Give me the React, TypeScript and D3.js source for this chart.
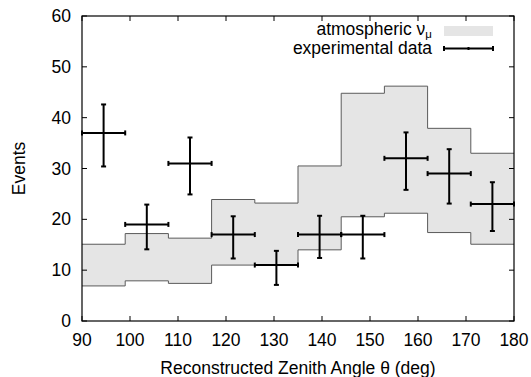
import { useEffect, useRef } from 'react';
import * as d3 from 'd3';

// histogram bins (deg), 9 deg wide
const binEdges = [90, 99, 108, 117, 126, 135, 144, 153, 162, 171, 180];
// atmospheric nu_mu expectation band
const bandUpper = [15.1, 17.2, 16.3, 23.9, 23.2, 30.5, 44.8, 46.2, 37.9, 33.0];
const bandLower = [6.9, 7.9, 7.4, 11.0, 11.0, 14.0, 20.5, 21.2, 17.4, 15.1];
// experimental data
const dataCounts = [37, 19, 31, 17, 11, 17, 17, 32, 29, 23];
const dataLow = [30.4, 14.1, 24.9, 12.3, 7.1, 12.4, 12.3, 25.8, 23.1, 17.7];
const dataHigh = [42.6, 22.9, 36.1, 20.6, 13.8, 20.7, 20.7, 37.1, 33.8, 27.3];

const xTicks = [90, 100, 110, 120, 130, 140, 150, 160, 170, 180];
const yTicks = [0, 10, 20, 30, 40, 50, 60];

export default function App() {
  const svgRef = useRef<SVGSVGElement>(null);

  useEffect(() => {
    if (!svgRef.current) return;
    const width = 531;
    const height = 377;
    const svg = d3.select(svgRef.current);
    svg.selectAll('*').remove();

    const margin = { top: 16, right: 17, bottom: 56, left: 82 };
    const innerW = width - margin.left - margin.right;
    const innerH = height - margin.top - margin.bottom;
    const font = '"Liberation Sans", Arial, sans-serif';
    const fs = 17.5;

    const x = d3.scaleLinear().domain([90, 180]).range([0, innerW]);
    const y = d3.scaleLinear().domain([0, 60]).range([innerH, 0]);

    const g = svg
      .append('g')
      .attr('transform', `translate(${margin.left},${margin.top})`);

    // band as step area
    const steps = binEdges.map((e, i) => ({
      x: e,
      lo: bandLower[Math.min(i, bandLower.length - 1)],
      hi: bandUpper[Math.min(i, bandUpper.length - 1)],
    }));
    const area = d3
      .area<{ x: number; lo: number; hi: number }>()
      .x((d) => x(d.x))
      .y0((d) => y(d.lo))
      .y1((d) => y(d.hi))
      .curve(d3.curveStepAfter);
    g.append('path').datum(steps).attr('d', area).attr('fill', '#e5e5e5');

    const lineHi = d3
      .line<{ x: number; lo: number; hi: number }>()
      .x((d) => x(d.x))
      .y((d) => y(d.hi))
      .curve(d3.curveStepAfter);
    const lineLo = d3
      .line<{ x: number; lo: number; hi: number }>()
      .x((d) => x(d.x))
      .y((d) => y(d.lo))
      .curve(d3.curveStepAfter);
    [lineHi, lineLo].forEach((ln) => {
      g.append('path')
        .datum(steps)
        .attr('d', ln)
        .attr('fill', 'none')
        .attr('stroke', '#5a5a5a')
        .attr('stroke-width', 1);
    });

    // frame + ticks
    const tl = 5;
    g.append('rect')
      .attr('width', innerW)
      .attr('height', innerH)
      .attr('fill', 'none')
      .attr('stroke', '#000')
      .attr('stroke-width', 1.2);

    xTicks.forEach((t) => {
      g.append('line')
        .attr('x1', x(t)).attr('x2', x(t))
        .attr('y1', innerH).attr('y2', innerH - tl)
        .attr('stroke', '#000');
      g.append('line')
        .attr('x1', x(t)).attr('x2', x(t))
        .attr('y1', 0).attr('y2', tl)
        .attr('stroke', '#000');
      g.append('text')
        .attr('x', x(t))
        .attr('y', innerH + 25)
        .attr('text-anchor', 'middle')
        .attr('font-family', font)
        .attr('font-size', fs)
        .attr('fill', '#000')
        .text(t);
    });

    yTicks.forEach((t) => {
      g.append('line')
        .attr('x1', 0).attr('x2', tl)
        .attr('y1', y(t)).attr('y2', y(t))
        .attr('stroke', '#000');
      g.append('line')
        .attr('x1', innerW).attr('x2', innerW - tl)
        .attr('y1', y(t)).attr('y2', y(t))
        .attr('stroke', '#000');
      g.append('text')
        .attr('x', -11)
        .attr('y', y(t))
        .attr('dy', '0.35em')
        .attr('text-anchor', 'end')
        .attr('font-family', font)
        .attr('font-size', fs)
        .attr('fill', '#000')
        .text(t);
    });

    // data points with error bars
    const cap = 2.5;
    dataCounts.forEach((v, i) => {
      const x0 = x(binEdges[i]);
      const x1 = x(binEdges[i + 1]);
      const xc = (x0 + x1) / 2;
      const yv = y(v);
      const yl = y(dataLow[i]);
      const yh = y(dataHigh[i]);
      const segs: [number, number, number, number][] = [
        [x0, yv, x1, yv],
        [xc, yl, xc, yh],
        [x0, yv - cap, x0, yv + cap],
        [x1, yv - cap, x1, yv + cap],
        [xc - cap, yl, xc + cap, yl],
        [xc - cap, yh, xc + cap, yh],
      ];
      segs.forEach(([a, b, c, d]) => {
        g.append('line')
          .attr('x1', a).attr('y1', b).attr('x2', c).attr('y2', d)
          .attr('stroke', '#000')
          .attr('stroke-width', 2);
      });
    });

    // legend
    const lx = 432 - margin.left;
    const leg1 = g.append('text')
      .attr('x', lx)
      .attr('y', 34.5 - margin.top)
      .attr('text-anchor', 'end')
      .attr('font-family', font)
      .attr('font-size', fs)
      .attr('fill', '#000');
    leg1.append('tspan').text('atmospheric ν');
    leg1.append('tspan').attr('dy', 3.5).attr('font-size', 11.5).text('μ');

    g.append('rect')
      .attr('x', 444 - margin.left)
      .attr('y', 26 - margin.top)
      .attr('width', 49)
      .attr('height', 10)
      .attr('fill', '#e5e5e5');

    g.append('text')
      .attr('x', lx)
      .attr('y', 53.5 - margin.top)
      .attr('text-anchor', 'end')
      .attr('font-family', font)
      .attr('font-size', fs)
      .attr('fill', '#000')
      .text('experimental data');

    const ly = 48.5 - margin.top;
    const lx0 = 444 - margin.left;
    const lx1 = 493 - margin.left;
    const lsegs: [number, number, number, number][] = [
      [lx0, ly, lx1, ly],
      [lx0, ly - cap, lx0, ly + cap],
      [lx1, ly - cap, lx1, ly + cap],
      [(lx0 + lx1) / 2, ly - 1.5, (lx0 + lx1) / 2, ly + 1.5],
    ];
    lsegs.forEach(([a, b, c, d]) => {
      g.append('line')
        .attr('x1', a).attr('y1', b).attr('x2', c).attr('y2', d)
        .attr('stroke', '#000')
        .attr('stroke-width', 2);
    });

    // axis titles
    g.append('text')
      .attr('x', innerW / 2)
      .attr('y', innerH + 53)
      .attr('text-anchor', 'middle')
      .attr('font-family', font)
      .attr('font-size', fs)
      .attr('fill', '#000')
      .text('Reconstructed Zenith Angle θ (deg)');

    g.append('text')
      .attr('transform', 'rotate(-90)')
      .attr('x', -innerH / 2)
      .attr('y', 25 - margin.left)
      .attr('text-anchor', 'middle')
      .attr('font-family', font)
      .attr('font-size', fs)
      .attr('fill', '#000')
      .text('Events');
  }, []);

  return (
    <svg
      ref={svgRef}
      width={531}
      height={377}
      style={{ position: 'absolute', left: 0, top: 0, background: '#fff' }}
    />
  );
}
